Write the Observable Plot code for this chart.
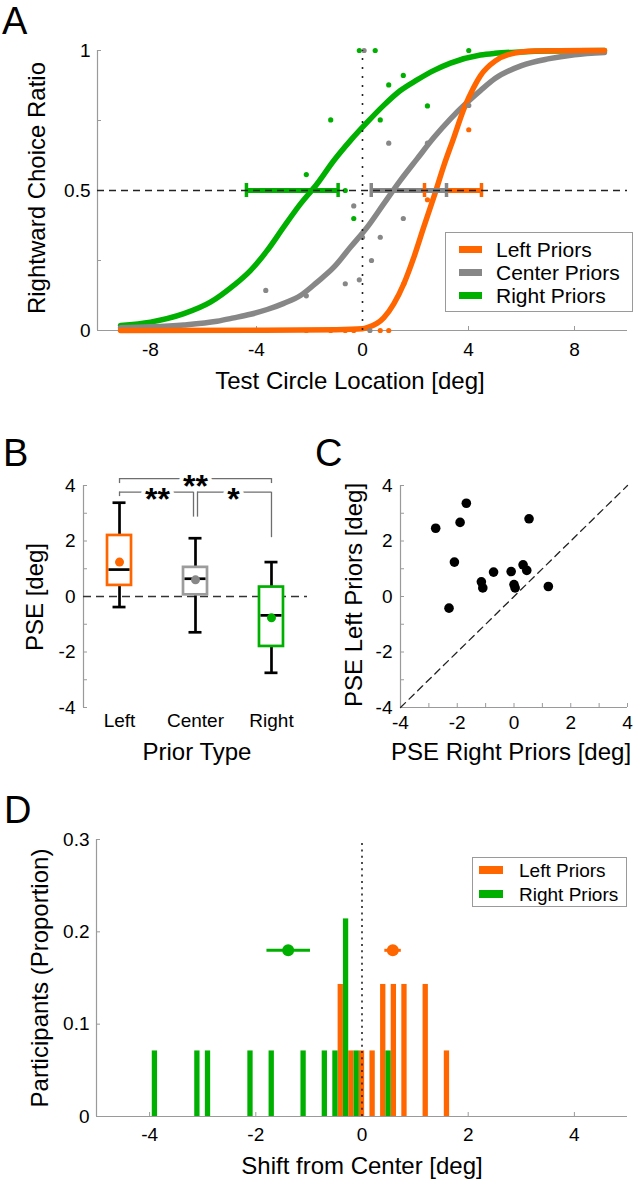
<!DOCTYPE html>
<html><head><meta charset="utf-8">
<script src="https://cdn.jsdelivr.net/npm/d3@7"></script>
<script src="https://cdn.jsdelivr.net/npm/@observablehq/plot@0.6"></script>
<style>
body{margin:0;background:#fff;}
#root{position:relative;width:635px;height:1181px;overflow:hidden;font-family:"Liberation Sans",Arial,sans-serif;color:#000;background:#fff;}
.panel{position:absolute;}
.ytitle{position:absolute;white-space:nowrap;line-height:1;font-size:24px;transform:translate(-50%,-50%) rotate(-90deg);}
.xtitle{position:absolute;white-space:nowrap;line-height:1;font-size:24px;transform:translateX(-50%);}
.letter{position:absolute;line-height:1.1;font-size:38px;}
.legend{position:absolute;border:1px solid #9a9a9a;background:#fff;box-sizing:border-box;}
.sw{position:absolute;}
.lt{position:absolute;line-height:1;white-space:nowrap;transform:translateY(-50%);}
</style></head>
<body><div id="root"></div>
<script>
// ---------------- DATA ----------------
// Panel A: psychometric curves
const seriesNames = ["Left Priors", "Center Priors", "Right Priors"];
const aXDomain = [-10, 10];
const aYDomain = [0, 1];
const aXTicks = [-8, -4, 0, 4, 8];
const aYTicks = [0, 0.25, 0.5, 0.75, 1];
const aYLabels = [0, 0.5, 1];
const pseLevel = 0.5;
const testCenter = 0;

const leftCurveX = [-9.13, -4, -1, 0, 0.18, 0.8, 1.18, 1.56, 1.94, 2.31, 2.69, 3.07, 3.45, 3.82, 4.2, 4.45, 5, 5.5, 6.5, 9.13];
const leftCurveY = [0, 0.001, 0.003, 0.006, 0.01, 0.045, 0.095, 0.167, 0.262, 0.369, 0.476, 0.589, 0.69, 0.79, 0.869, 0.91, 0.962, 0.985, 0.998, 1.0];
const centerCurveX = [-9.13, -8, -6.74, -5.49, -4.86, -4.23, -3.6, -2.97, -2.34, -1.71, -1.08, -0.45, 0.18, 0.8, 1.43, 2.06, 2.7, 3.32, 3.95, 4.45, 5, 6, 7, 8, 9.13];
const centerCurveY = [0.01, 0.013, 0.02, 0.033, 0.045, 0.058, 0.075, 0.097, 0.125, 0.173, 0.226, 0.298, 0.369, 0.452, 0.536, 0.613, 0.69, 0.756, 0.815, 0.857, 0.9, 0.946, 0.97, 0.985, 0.993];
const rightCurveX = [-9.13, -8, -6.74, -5.74, -4.86, -4.23, -3.6, -2.97, -2.34, -1.71, -1.08, -0.45, 0.18, 0.8, 1.43, 2.06, 2.7, 3.32, 4.45, 5, 6, 7, 9.13];
const rightCurveY = [0.018, 0.03, 0.06, 0.101, 0.161, 0.214, 0.285, 0.37, 0.452, 0.524, 0.607, 0.679, 0.744, 0.804, 0.857, 0.895, 0.929, 0.955, 0.984, 0.99, 0.995, 0.998, 1.0];

const leftDotX = [4.01, 2.45, 1.56, 0.67, 0.99, -0.33, -0.65, -1.2, -2.12, -3.65];
const leftDotY = [0.717, 0.467, 0.167, 0, 0, 0, 0, 0, 0, 0];
const centerDotX = [0.06, 0.99, 2.45, -0.33, 1.54, 0.67, 0.0, 0.34, -0.65, -0.12, -3.65, -2.12, 0.28, 4.01];
const centerDotY = [1, 0.669, 0.669, 0.445, 0.4, 0.333, 0.333, 0.25, 0.167, 0.181, 0.143, 0.124, 0, 0.804];
const rightDotX = [-0.12, 0.48, 4.01, 1.54, 0.99, 2.45, -1.2, 0.67, -2.12, -0.65, -0.33];
const rightDotY = [1, 1, 1, 0.911, 0.877, 0.802, 0.752, 0.752, 0.557, 0.5, 0.4];

const pseLo = [2.34, 0.33, -4.38];   // Left, Center, Right
const pseHi = [4.49, 3.17, -0.92];

// Panel B: box plots of PSE
const priorTypes = ["Left", "Center", "Right"];
const priorPos = [1, 2, 3];
const boxLow = [-0.38, -1.29, -2.75];
const boxQ1 = [0.40, 0.06, -1.80];
const boxMedian = [0.97, 0.64, -0.68];
const boxQ3 = [2.20, 1.05, 0.34];
const boxHigh = [3.38, 2.10, 1.24];
const boxMean = [1.24, 0.60, -0.77];
const bXDomain = [0.526, 3.474];
const bYDomain = [-4, 4];
const bYTicks = [-4, -3, -2, -1, 0, 1, 2, 3, 4];
const bYLabels = [-4, -2, 0, 2, 4];
const sigFrom = [1, 1, 2];
const sigTo = [3, 2, 3];
const sigY = [4.25, 3.76, 3.76];
const sigFootFrom = [4.07, 3.60, 2.86];
const sigFootTo = [4.07, 2.86, 2.12];
const sigLabel = ["**", "**", "*"];

// Panel C: PSE Left vs PSE Right
const pseRight = [-2.76, -1.68, -1.90, 0.53, -2.10, -1.15, -1.10, -0.72, -0.10, 0.32, 0.45, 0.00, 0.04, 1.21, -2.29];
const pseLeft  = [2.46, 3.36, 2.67, 2.80, 1.24, 0.53, 0.31, 0.88, 0.90, 1.14, 0.94, 0.43, 0.31, 0.36, -0.42];
const cDomain = [-4, 4];
const cTicks = [-4, -3, -2, -1, 0, 1, 2, 3, 4];
const cLabels = [-4, -2, 0, 2, 4];

// Panel D: shift histograms
const dXDomain = [-5, 5];
const dYDomain = [0, 0.3];
const dXTicks = [-4, -2, 0, 2, 4];
const dYTicks = [0, 0.1, 0.2, 0.3];
const leftShiftX = [-0.4, -0.2, 0.0, 0.2, 0.4, 0.6, 0.8, 1.2, 1.6];
const leftShiftP = [0.143, 0.071, 0.071, 0.071, 0.143, 0.143, 0.143, 0.143, 0.071];
const rightShiftX = [-3.9, -3.1, -2.9, -2.1, -1.7, -1.1, -0.7, -0.5, -0.3, -0.1, 0.5];
const rightShiftP = [0.071, 0.071, 0.071, 0.071, 0.071, 0.071, 0.071, 0.071, 0.214, 0.071, 0.071];
const shiftNames = ["Left Priors", "Right Priors"];
const shiftMean = [0.58, -1.39];
const shiftLo = [0.43, -1.79];
const shiftHi = [0.74, -0.97];
const shiftMeanLevel = 0.18;

// ---------------- STYLE ----------------
const ORANGE = "#ff6600", GRAY = "#878787", GREEN = "#00b000", AXIS = "#9a9a9a";
const seriesColor = {"Left Priors": ORANGE, "Center Priors": GRAY, "Right Priors": GREEN};
const boxColor = {"Left": ORANGE, "Center": "#9c9c9c", "Right": GREEN};
const meanColor = {"Left": ORANGE, "Center": GRAY, "Right": GREEN};
const FONT = "'Liberation Sans', Arial, sans-serif";
const fmt = d => String(d);
const blank = () => "";

const root = document.getElementById("root");
function place(svg, left, top) {
  const d = document.createElement("div");
  d.className = "panel";
  d.style.left = left + "px"; d.style.top = top + "px";
  d.appendChild(svg); root.appendChild(d);
}
function html(cls, text, left, top, extra) {
  const d = document.createElement("div");
  d.className = cls; d.textContent = text;
  d.style.left = left + "px"; d.style.top = top + "px";
  if (extra) Object.assign(d.style, extra);
  root.appendChild(d); return d;
}
const zip = (xs, ys) => xs.map((x, i) => ({x, y: ys[i]}));

// ---------------- PANEL A ----------------
const curves = {
  "Left Priors": zip(leftCurveX, leftCurveY),
  "Center Priors": zip(centerCurveX, centerCurveY),
  "Right Priors": zip(rightCurveX, rightCurveY)
};
const dots = {
  "Left Priors": zip(leftDotX, leftDotY),
  "Center Priors": zip(centerDotX, centerDotY),
  "Right Priors": zip(rightDotX, rightDotY)
};
const drawOrder = ["Right Priors", "Center Priors", "Left Priors"];
const pseBars = seriesNames.map((s, i) => ({series: s, lo: pseLo[i], hi: pseHi[i], y: pseLevel}));
const barOrder = ["Right Priors", "Left Priors", "Center Priors"];

const plotA = Plot.plot({
  width: 635, height: 365,
  marginLeft: 97, marginRight: 8, marginTop: 50, marginBottom: 35,
  style: {fontFamily: FONT, fontSize: "19px", background: "transparent", overflow: "visible"},
  x: {domain: aXDomain, label: null},
  y: {domain: aYDomain, label: null},
  marks: [
    Plot.ruleX([aXDomain[0]], {y1: aYDomain[0], y2: aYDomain[1], stroke: AXIS, strokeWidth: 1.2}),
    Plot.ruleY([aYDomain[0]], {stroke: AXIS, strokeWidth: 1.2}),
    Plot.axisX(aXTicks, {tickSize: 4, dy: -4, tickFormat: blank, stroke: AXIS, label: null}),
    Plot.axisX(aXTicks, {tickSize: 0, tickPadding: 12, tickFormat: fmt, label: null}),
    Plot.axisY(aYTicks, {tickSize: 4, dx: 4, tickFormat: blank, stroke: AXIS, label: null}),
    Plot.axisY(aYLabels, {tickSize: 0, tickPadding: 7, tickFormat: fmt, label: null}),
    ...drawOrder.map(s => Plot.line(curves[s], {x: "x", y: "y", stroke: seriesColor[s], strokeWidth: 5.5, curve: "monotone-x"})),
    ...drawOrder.map(s => Plot.dot(dots[s], {x: "x", y: "y", r: 2.6, fill: seriesColor[s]})),
    ...barOrder.map(s => Plot.ruleY(pseBars.filter(d => d.series === s), {y: "y", x1: "lo", x2: "hi", stroke: seriesColor[s], strokeWidth: 5})),
    ...barOrder.map(s => Plot.ruleX(pseBars.filter(d => d.series === s).flatMap(d => [d.lo, d.hi]),
        {x: d => d, y1: pseLevel, y2: pseLevel, insetTop: -7, insetBottom: -7, stroke: seriesColor[s], strokeWidth: 3.5})),
    Plot.ruleY([pseLevel], {stroke: "#222", strokeWidth: 1.5, strokeDasharray: "7,5"}),
    Plot.ruleX([testCenter], {y1: aYDomain[0], y2: aYDomain[1], stroke: "#222", strokeWidth: 1.6, strokeDasharray: "2,7"})
  ]
});
place(plotA, 0, 0);

// ---------------- PANEL B ----------------
const boxes = priorTypes.map((t, i) => ({type: t, pos: priorPos[i], lo: boxLow[i], q1: boxQ1[i], med: boxMedian[i], q3: boxQ3[i], hi: boxHigh[i], mean: boxMean[i]}));
const sig = sigLabel.map((l, i) => ({from: sigFrom[i], to: sigTo[i], y: sigY[i], footFrom: sigFootFrom[i], footTo: sigFootTo[i], label: l}));
const sigMarks = [];
sig.forEach(s => {
  const gapL = s.from === 2 ? 2 : 0, gapR = s.to === 2 ? 2 : 0;
  sigMarks.push(Plot.ruleY([s], {y: "y", x1: "from", x2: "to", insetLeft: gapL, insetRight: gapR, stroke: "#6e6e6e", strokeWidth: 1.3}));
  sigMarks.push(Plot.ruleX([s], {x: "from", y1: "y", y2: "footFrom", dx: gapL, stroke: "#6e6e6e", strokeWidth: 1.3}));
  sigMarks.push(Plot.ruleX([s], {x: "to", y1: "y", y2: "footTo", dx: -gapR, stroke: "#6e6e6e", strokeWidth: 1.3}));
});
sig.forEach(s => {
  sigMarks.push(Plot.text([s], {x: d => (d.from + d.to) / 2, y: "y", text: "label", fontSize: 32, fontWeight: "bold", dy: 8, fill: "black", stroke: "white", strokeWidth: 8}));
});

const plotB = Plot.plot({
  width: 320, height: 300,
  marginLeft: 83, marginRight: 13, marginTop: 45, marginBottom: 33,
  style: {fontFamily: FONT, fontSize: "19px", background: "transparent", overflow: "visible"},
  x: {domain: bXDomain, label: null},
  y: {domain: bYDomain, label: null},
  marks: [
    Plot.ruleX([bXDomain[0]], {y1: bYDomain[0], y2: bYDomain[1], stroke: AXIS, strokeWidth: 1.2}),
    Plot.axisY(bYTicks, {tickSize: 4, dx: 4, tickFormat: blank, stroke: AXIS, label: null}),
    Plot.axisY(bYLabels, {tickSize: 0, tickPadding: 8, tickFormat: fmt, label: null}),
    Plot.axisX(priorPos, {tickSize: 0, tickPadding: 6, tickFormat: (d, i) => priorTypes[i], fontSize: 19, label: null}),
    Plot.ruleY([0], {stroke: "#333", strokeWidth: 1.5, strokeDasharray: "8,5"}),
    Plot.ruleX(boxes, {x: "pos", y1: "q3", y2: "hi", stroke: "black", strokeWidth: 2.7}),
    Plot.ruleX(boxes, {x: "pos", y1: "lo", y2: "q1", stroke: "black", strokeWidth: 2.7}),
    Plot.ruleY(boxes, {y: "hi", x1: "pos", x2: "pos", insetLeft: -6.5, insetRight: -6.5, stroke: "black", strokeWidth: 2.7}),
    Plot.ruleY(boxes, {y: "lo", x1: "pos", x2: "pos", insetLeft: -6.5, insetRight: -6.5, stroke: "black", strokeWidth: 2.7}),
    ...boxes.map(b => Plot.rect([b], {x1: "pos", x2: "pos", y1: "q1", y2: "q3", insetLeft: -12, insetRight: -12, fill: "white", stroke: boxColor[b.type], strokeWidth: 2.7})),
    Plot.ruleY(boxes, {y: "med", x1: "pos", x2: "pos", insetLeft: -10.5, insetRight: -10.5, stroke: "black", strokeWidth: 2.7}),
    ...boxes.map(b => Plot.dot([b], {x: "pos", y: "mean", r: 4.5, fill: meanColor[b.type]})),
    ...sigMarks
  ]
});
place(plotB, 0, 440);

// ---------------- PANEL C ----------------
const cPts = pseRight.map((x, i) => ({right: x, left: pseLeft[i]}));
const plotC = Plot.plot({
  width: 315, height: 300,
  marginLeft: 80, marginRight: 8, marginTop: 45, marginBottom: 33,
  style: {fontFamily: FONT, fontSize: "19px", background: "transparent", overflow: "visible"},
  x: {domain: cDomain, label: null},
  y: {domain: cDomain, label: null},
  marks: [
    Plot.ruleX([cDomain[0]], {y1: cDomain[0], y2: cDomain[1], stroke: AXIS, strokeWidth: 1.2}),
    Plot.ruleY([cDomain[0]], {x1: cDomain[0], x2: cDomain[1], stroke: AXIS, strokeWidth: 1.2}),
    Plot.axisX(cTicks, {tickSize: 4, dy: -4, tickFormat: blank, stroke: AXIS, label: null}),
    Plot.axisX(cLabels, {tickSize: 0, tickPadding: 8, tickFormat: fmt, label: null}),
    Plot.axisY(cTicks, {tickSize: 4, dx: 4, tickFormat: blank, stroke: AXIS, label: null}),
    Plot.axisY(cLabels, {tickSize: 0, tickPadding: 8, tickFormat: fmt, label: null}),
    Plot.line(cDomain, {x: d => d, y: d => d, stroke: "#222", strokeWidth: 1.3, strokeDasharray: "7,5"}),
    Plot.dot(cPts, {x: "right", y: "left", r: 4.8, fill: "black"})
  ]
});
place(plotC, 320, 440);

// ---------------- PANEL D ----------------
const leftBars = leftShiftX.map((x, i) => ({x, p: leftShiftP[i]}));
const rightBars = rightShiftX.map((x, i) => ({x, p: rightShiftP[i]}));
const means = shiftNames.map((n, i) => ({name: n, m: shiftMean[i], lo: shiftLo[i], hi: shiftHi[i], y: shiftMeanLevel}));
const shiftColor = {"Left Priors": ORANGE, "Right Priors": GREEN};
const plotD = Plot.plot({
  width: 635, height: 370,
  marginLeft: 96, marginRight: 8, marginTop: 59, marginBottom: 34,
  style: {fontFamily: FONT, fontSize: "19px", background: "transparent", overflow: "visible"},
  x: {domain: dXDomain, label: null},
  y: {domain: dYDomain, label: null},
  marks: [
    Plot.ruleX([dXDomain[0]], {y1: dYDomain[0], y2: dYDomain[1], stroke: AXIS, strokeWidth: 1.2}),
    Plot.axisX(dXTicks, {tickSize: 4, dy: -4, tickFormat: blank, stroke: AXIS, label: null}),
    Plot.axisX(dXTicks, {tickSize: 0, tickPadding: 11, tickFormat: fmt, label: null}),
    Plot.axisY(dYTicks, {tickSize: 4, dx: 4, tickFormat: blank, stroke: AXIS, label: null}),
    Plot.axisY(dYTicks, {tickSize: 0, tickPadding: 7, tickFormat: fmt, label: null}),
    Plot.rect(leftBars, {x1: "x", x2: "x", y1: 0, y2: "p", insetLeft: -2.65, insetRight: -2.65, fill: ORANGE}),
    Plot.rect(rightBars, {x1: "x", x2: "x", y1: 0, y2: "p", insetLeft: -2.65, insetRight: -2.65, fill: GREEN}),
    Plot.ruleY([dYDomain[0]], {stroke: AXIS, strokeWidth: 1.2}),
    Plot.ruleX([testCenter], {y1: dYDomain[0], y2: dYDomain[1], stroke: "#222", strokeWidth: 1.6, strokeDasharray: "2,4.3"}),
    ...means.map(d => Plot.ruleY([d], {y: "y", x1: "lo", x2: "hi", stroke: shiftColor[d.name], strokeWidth: 3})),
    ...means.map(d => Plot.dot([d], {x: "m", y: "y", r: 6, fill: shiftColor[d.name]}))
  ]
});
place(plotD, 0, 780);

// ---------------- TEXT / LEGENDS ----------------
html("letter", "A", 2, 1);
html("letter", "B", 3, 433);
html("letter", "C", 315, 433);
html("letter", "D", 4, 790);

html("ytitle", "Rightward Choice Ratio", 37, 188);
html("xtitle", "Test Circle Location [deg]", 350, 369);
html("ytitle", "PSE [deg]", 35, 597);
html("xtitle", "Prior Type", 197, 740);
html("ytitle", "PSE Left Priors [deg]", 354, 595);
html("xtitle", "PSE Right Priors [deg]", 511, 740);
html("ytitle", "Participants (Proportion)", 40, 978);
html("xtitle", "Shift from Center [deg]", 362, 1154);

function legend(left, top, w, h, names, colors, rowY, swLeft, swW, swH, txtLeft, fontSize) {
  const box = document.createElement("div");
  box.className = "legend";
  Object.assign(box.style, {left: left + "px", top: top + "px", width: w + "px", height: h + "px"});
  names.forEach((n, i) => {
    const sw = document.createElement("div");
    sw.className = "sw";
    Object.assign(sw.style, {left: swLeft + "px", top: (rowY[i] - swH / 2) + "px", width: swW + "px", height: swH + "px", background: colors[n]});
    const t = document.createElement("div");
    t.className = "lt"; t.textContent = n;
    Object.assign(t.style, {left: txtLeft + "px", top: rowY[i] + "px", fontSize: fontSize + "px"});
    box.appendChild(sw); box.appendChild(t);
  });
  root.appendChild(box);
}
legend(445, 232, 188, 80, seriesNames, seriesColor, [16, 39, 62], 13, 23, 7, 50, 21);
legend(472, 857, 155, 50, shiftNames, shiftColor, [12, 36], 6, 24, 8, 46, 19);
</script>
</body></html>
